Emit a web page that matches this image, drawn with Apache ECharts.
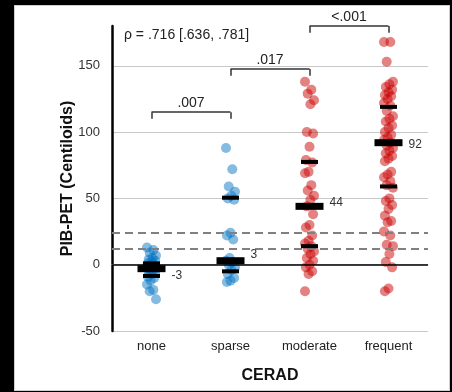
<!DOCTYPE html>
<html><head><meta charset="utf-8">
<script src="https://cdn.jsdelivr.net/npm/echarts@6/dist/echarts.min.js"></script>
<style>html,body{margin:0;padding:0;background:#000;}#c{position:absolute;left:14px;top:5px;width:436px;height:386px;background:#fff;box-shadow:inset 0 0 0 1px #d0d0d0;}</style>
</head><body><div id="c"></div>
<script>
const categories = ['none','sparse','moderate','frequent'];
const noneVals = [13,11,9,7,5,4,3,2,1,0,0,-1,-2,-3,-3,-4,-5,-6,-7,-9,-10,-12,-15,-19,-20,-26];
const sparseVals = [88,72,59,55,52,50,49,24,22,19,5,3,2,0,-2,-4,-7,-10,-12,-13];
const moderateVals = [138,132,129,124,121,100,99,89,79,77,70,69,60,56,52,49,44,38,30,28,22,18,16,14,12,10,8,5,3,0,-2,-5,-7,-20];
const frequentVals = [168,168,153,138,136,134,132,130,128,127,125,122,120,116,112,110,108,105,103,100,98,96,94,92,90,88,86,84,82,80,78,70,68,66,63,60,58,50,48,45,42,37,33,32,25,22,15,14,8,2,-2,-18,-20];
const medians = [-3,3,44,92];
const q1s = [-8.5,-5,14,59];
const q3s = [1,50.5,77.5,119];
const medianLabels = ['-3','3','44','92'];
const thresholds = [24,12];
const brackets = [['none','sparse',115,'.007'],['sparse','moderate',147.5,'.017'],['moderate','frequent',180,'<.001']];
const yTicks = {min:-50,max:180,interval:50};
const rhoText = 'ρ = .716 [.636, .781]';

const FONT = '"Liberation Sans", Arial, sans-serif';
const groups = [noneVals, sparseVals, moderateVals, frequentVals];
const colors = ['rgba(0,112,192,0.6)','rgba(0,112,192,0.6)','rgba(200,0,0,0.62)','rgba(200,0,0,0.62)'];
function jit(i){ return ((i*7)%11 - 5)*0.9; }
const pointSeries = groups.map((vals,g)=>({
  type:'scatter', symbolSize:10, z:1,
  itemStyle:{color:colors[g]},
  data: vals.map((v,i)=>({value:[categories[g],v], symbolOffset:[jit(i),0]}))
}));
const labelOffsets = [[0,7],[0,-6],[0,-4],[0,2]];
const barSeries = {
  type:'scatter', zlevel:1, z:10, symbol:'rect',
  itemStyle:{color:'#000',opacity:1},
  data: categories.flatMap((c,g)=>[
    {value:[c,q1s[g]], symbolSize:[17,4]},
    {value:[c,q3s[g]], symbolSize:[17,4]},
    {value:[c,medians[g]], symbolSize:[28,7],
      label:{show:true,position:'right',distance:6,formatter:medianLabels[g],offset:labelOffsets[g],
        color:'#333',fontSize:12,fontFamily:FONT}}
  ]),
  markLine:{
    silent:true, symbol:['none','none'], animation:false,
    data:[
      {yAxis:0, lineStyle:{color:'#000',width:1.5,type:'solid'}, label:{show:false}},
      ...thresholds.map(t=>({yAxis:t, lineStyle:{color:'#808080',width:2,type:[8,5]}, label:{show:false}})),
      ...brackets.flatMap(b=>[
        [{coord:[b[0],b[2]],lineStyle:{color:'#333',width:1.5,type:'solid'},
          label:{show:true,position:'middle',formatter:b[3],color:'#222',fontSize:14,fontFamily:FONT,distance:2}},
         {coord:[b[1],b[2]]}],
        [{coord:[b[0],b[2]],lineStyle:{color:'#333',width:1.5,type:'solid'},label:{show:false}},{coord:[b[0],b[2]-5]}],
        [{coord:[b[1],b[2]],lineStyle:{color:'#333',width:1.5,type:'solid'},label:{show:false}},{coord:[b[1],b[2]-5]}]
      ])
    ]
  }
};
const chart = echarts.init(document.getElementById('c'));
chart.setOption({
  animation:false,
  title:{text:rhoText,left:110,top:23,padding:0,textStyle:{fontSize:14,fontWeight:'normal',color:'#222',fontFamily:FONT}},
  grid:{left:98,right:22,top:21,bottom:60},
  xAxis:{type:'category',data:categories,
    axisLine:{show:true,lineStyle:{color:'#c8c8c8',width:1}},axisTick:{show:false},
    axisLabel:{color:'#222',fontSize:13,fontFamily:FONT,margin:9},
    name:'CERAD',nameLocation:'middle',nameGap:37,nameMoveOverlap:false,
    nameTextStyle:{fontSize:16,fontWeight:'bold',color:'#111',fontFamily:FONT}},
  yAxis:{type:'value',min:yTicks.min,max:yTicks.max,interval:yTicks.interval,
    axisLine:{show:true,lineStyle:{color:'#000',width:2.5}},axisTick:{show:false},
    axisLabel:{color:'#333',fontSize:13,fontFamily:FONT,margin:12,showMaxLabel:false},
    splitLine:{show:true,showMaxLine:false,lineStyle:{color:'#c8c8c8',width:1}},
    name:'PIB-PET (Centiloids)',nameLocation:'middle',nameGap:36,nameMoveOverlap:false,
    nameTextStyle:{fontSize:16,fontWeight:'bold',color:'#111',fontFamily:FONT}},
  series:[...pointSeries, barSeries]
});
</script></body></html>
